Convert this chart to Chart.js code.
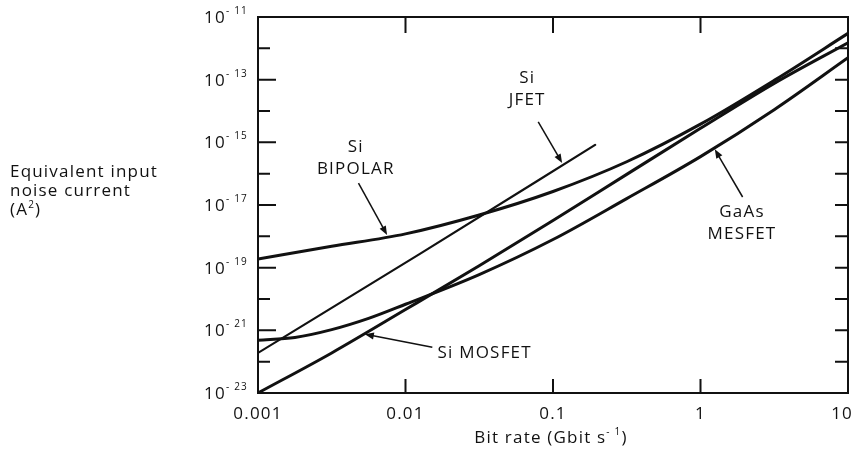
<!DOCTYPE html>
<html lang="en">
<head>
<meta charset="UTF-8" />
<title>Equivalent input noise current vs bit rate</title>
<script src="https://cdn.jsdelivr.net/npm/chart.js"></script>
<style>
  html, body { margin: 0; padding: 0; background: #fff; }
  #wrap { width: 855px; height: 455px; position: relative; }
</style>
</head>
<body>
<div id="wrap"><canvas id="noiseChart"></canvas></div>
<script>
// bit rate in Gbit/s, noise current in A^2
const bipolarRate = [0.001, 0.00316, 0.01, 0.0316, 0.1, 0.316, 1, 3.16, 10];
const bipolarNoise = [1.9e-19, 4.8e-19, 1.2e-18, 4.8e-18, 2.7e-17, 2.4e-16, 3.8e-15, 9.5e-14, 3.0e-12];

const jfetRate = [0.001, 0.0126, 0.193];
const jfetNoise = [1.9e-22, 2.8e-19, 8.3e-16];

const mosfetRate = [0.001, 0.00316, 0.01, 0.0316, 0.1, 0.316, 1, 3.16, 10];
const mosfetNoise = [1.0e-23, 1.9e-22, 4.6e-21, 1.15e-19, 3.2e-18, 9.5e-17, 2.8e-15, 7.6e-14, 1.5e-12];

const gaasRate = [0.001, 0.00178, 0.00316, 0.00562, 0.01, 0.0316, 0.1, 0.316, 1, 3.16, 10];
const gaasNoise = [4.8e-22, 5.9e-22, 1.05e-21, 2.4e-21, 6.8e-21, 6.0e-20, 7.9e-19, 1.6e-17, 3.5e-16, 1.1e-14, 5.0e-13];

const xTicks = [0.001, 0.01, 0.1, 1, 10];
const xTickLabels = ["0.001", "0.01", "0.1", "1", "10"];
const yExponents = [-23, -22, -21, -20, -19, -18, -17, -16, -15, -14, -13, -12, -11];
const yLabelled = [-23, -21, -19, -17, -15, -13, -11];

// curve labels and their arrows, in data coordinates
const notes = [
  { lines: ["Si", "BIPOLAR"], at: [0.0046, 7.1e-16], from: [0.0048, 5.0e-17], to: [0.0075, 1.1e-18] },
  { lines: ["Si", "JFET"], at: [0.0668, 1.1e-13], from: [0.0794, 4.5e-15], to: [0.1153, 2.2e-16] },
  { lines: ["GaAs", "MESFET"], at: [1.91, 6.0e-18], from: [1.93, 1.8e-17], to: [1.25, 6.0e-16] },
];
const mosfetNote = { text: "Si MOSFET", at: [0.0165, 1.9e-22], from: [0.0152, 2.9e-22], to: [0.0053, 7.5e-22] };

const FONT = '"Open Sans", sans-serif';
const INK = "#111";

const toPoints = (xs, ys) => xs.map((x, i) => ({ x: x, y: ys[i] }));

function drawParts(ctx, parts, x, y, align) {
  // parts: [text, size, raise]
  let total = 0;
  const widths = parts.map((p) => {
    ctx.font = "500 " + p[1] + "px " + FONT;
    const w = ctx.measureText(p[0]).width;
    total += w;
    return w;
  });
  let cx = align === "right" ? x - total : align === "center" ? x - total / 2 : x;
  cx = Math.min(cx, 853 - total);
  ctx.textAlign = "left";
  parts.forEach((p, i) => {
    ctx.font = "500 " + p[1] + "px " + FONT;
    ctx.fillText(p[0], cx, y - p[2]);
    cx += widths[i];
  });
}

function arrow(ctx, x1, y1, x2, y2) {
  const a = Math.atan2(y2 - y1, x2 - x1);
  const len = 9, half = 3.5;
  ctx.lineWidth = 1.5;
  ctx.beginPath();
  ctx.moveTo(x1, y1);
  ctx.lineTo(x2 - Math.cos(a) * len * 0.8, y2 - Math.sin(a) * len * 0.8);
  ctx.stroke();
  ctx.beginPath();
  ctx.moveTo(x2, y2);
  ctx.lineTo(x2 - Math.cos(a) * len + Math.sin(a) * half, y2 - Math.sin(a) * len - Math.cos(a) * half);
  ctx.lineTo(x2 - Math.cos(a) * len - Math.sin(a) * half, y2 - Math.sin(a) * len + Math.cos(a) * half);
  ctx.closePath();
  ctx.fill();
}

const framePlugin = {
  id: "frame",
  afterDraw(chart) {
    const ctx = chart.ctx;
    const xs = chart.scales.x, ys = chart.scales.y;
    const { left, right, top, bottom } = chart.chartArea;
    ctx.save();
    ctx.strokeStyle = INK;
    ctx.fillStyle = INK;
    ctx.letterSpacing = "1.2px";

    // box
    ctx.lineWidth = 2;
    ctx.strokeRect(left, top, right - left, bottom - top);

    // y ticks (inward)
    yExponents.forEach((e) => {
      const py = ys.getPixelForValue(Math.pow(10, e));
      const major = yLabelled.includes(e);
      ctx.beginPath();
      ctx.moveTo(left, py);
      ctx.lineTo(left + (major ? 18 : 12), py);
      ctx.moveTo(right, py);
      ctx.lineTo(right - 13, py);
      ctx.stroke();
    });
    // x ticks (inward)
    xTicks.slice(1, -1).forEach((v) => {
      const px = xs.getPixelForValue(v);
      ctx.beginPath();
      ctx.moveTo(px, bottom);
      ctx.lineTo(px, bottom - 14);
      ctx.moveTo(px, top);
      ctx.lineTo(px, top + 16);
      ctx.stroke();
    });

    // tick labels
    ctx.textBaseline = "middle";
    yLabelled.forEach((e) => {
      const py = ys.getPixelForValue(Math.pow(10, e));
      drawParts(ctx, [["10", 17, -1], ["- " + Math.abs(e), 10, 6]], left - 10, py, "right");
    });
    xTicks.forEach((v, i) => {
      const px = xs.getPixelForValue(v);
      drawParts(ctx, [[xTickLabels[i], 17, 0]], px, bottom + 21, "center");
    });

    // axis titles
    drawParts(ctx, [["Bit rate (Gbit s", 17, 0], ["- 1", 10, 6], [")", 17, 0]], 551, 438, "center");
    drawParts(ctx, [["Equivalent input", 17, 0]], 10, 172, "left");
    drawParts(ctx, [["noise current", 17, 0]], 10, 191, "left");
    drawParts(ctx, [["(A", 17, 0], ["2", 10, 5], [")", 17, 0]], 10, 210, "left");

    // curve labels
    notes.forEach((n) => {
      const px = xs.getPixelForValue(n.at[0]);
      const py = ys.getPixelForValue(n.at[1]);
      n.lines.forEach((t, k) => drawParts(ctx, [[t, 17, 0]], px, py + k * 22, "center"));
      arrow(ctx, xs.getPixelForValue(n.from[0]), ys.getPixelForValue(n.from[1]),
        xs.getPixelForValue(n.to[0]), ys.getPixelForValue(n.to[1]));
    });
    drawParts(ctx, [[mosfetNote.text, 17, 0]], xs.getPixelForValue(mosfetNote.at[0]),
      ys.getPixelForValue(mosfetNote.at[1]), "left");
    arrow(ctx, xs.getPixelForValue(mosfetNote.from[0]), ys.getPixelForValue(mosfetNote.from[1]),
      xs.getPixelForValue(mosfetNote.to[0]), ys.getPixelForValue(mosfetNote.to[1]));
    ctx.restore();
  },
};

const curve = (label, pts, width) => ({
  label: label,
  data: pts,
  borderColor: INK,
  borderWidth: width,
  pointRadius: 0,
  fill: false,
  cubicInterpolationMode: "monotone",
  borderCapStyle: "round",
});

new Chart(document.getElementById("noiseChart"), {
  type: "line",
  data: {
    datasets: [
      curve("Si BIPOLAR", toPoints(bipolarRate, bipolarNoise), 3),
      curve("Si JFET", toPoints(jfetRate, jfetNoise), 2.2),
      curve("Si MOSFET", toPoints(mosfetRate, mosfetNoise), 3),
      curve("GaAs MESFET", toPoints(gaasRate, gaasNoise), 3),
    ],
  },
  options: {
    responsive: true,
    maintainAspectRatio: false,
    animation: false,
    layout: { padding: { left: 258, right: 7, top: 17, bottom: 62 } },
    plugins: { legend: { display: false }, tooltip: { enabled: false } },
    scales: {
      x: { type: "logarithmic", min: 0.001, max: 10, display: false },
      y: { type: "logarithmic", min: 1e-23, max: 1e-11, display: false },
    },
  },
  plugins: [framePlugin],
});
</script>
</body>
</html>
